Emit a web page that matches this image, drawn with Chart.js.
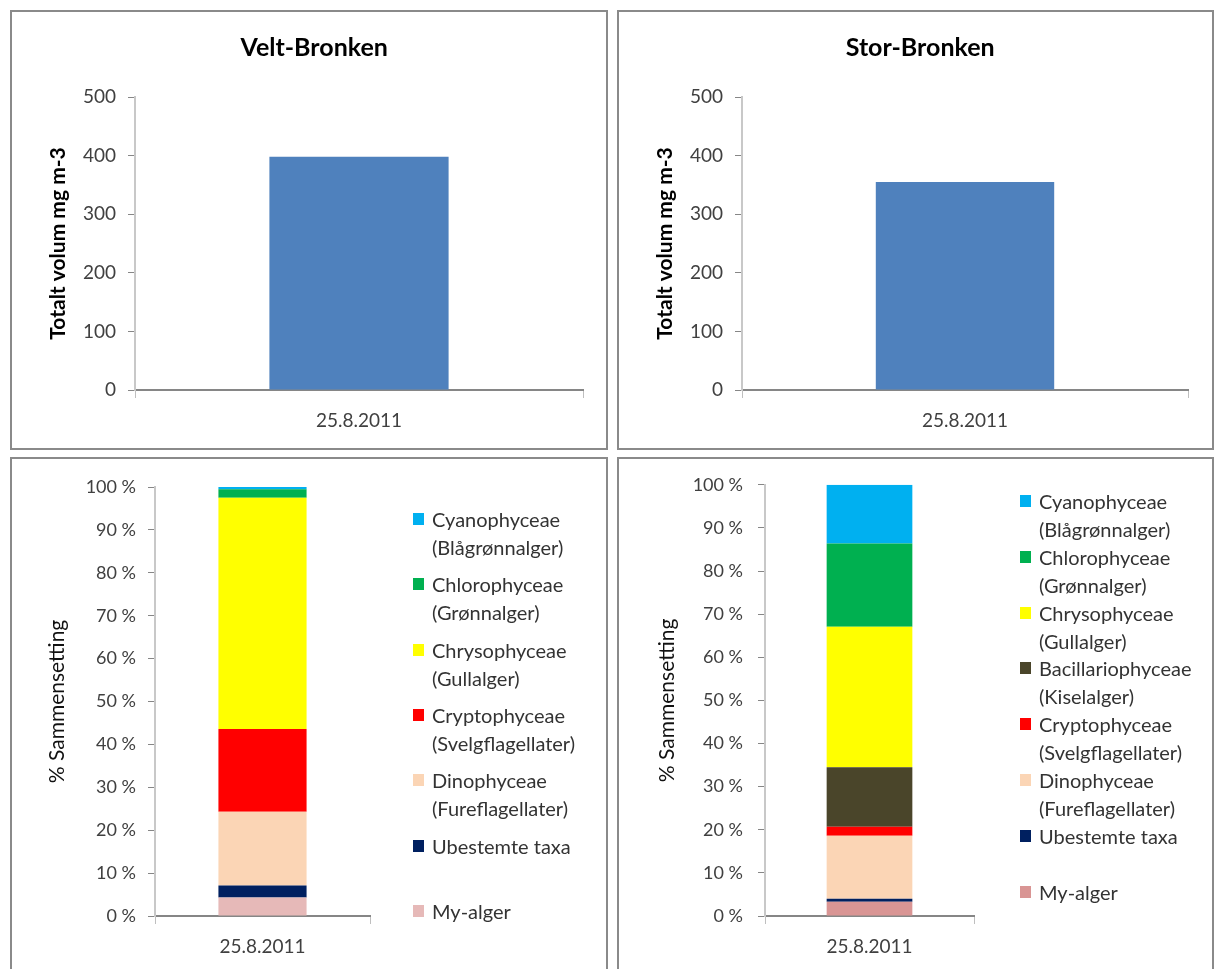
<!DOCTYPE html>
<html>
<head>
<meta charset="utf-8">
<script src="https://cdn.jsdelivr.net/npm/chart.js@4.4.0/dist/chart.umd.min.js"></script>
<style>
  body { margin: 0; background: #fff; width: 1214px; height: 969px; overflow: hidden; position: relative; font-family: Lato, sans-serif; }
  .panel { position: absolute; border: 2px solid #8a8a8a; box-sizing: border-box; }
  canvas { position: absolute; }
  .legend { position: absolute; font-size: 20px; color: #333; line-height: 28px; }
  .legend .item { position: absolute; left: 0; white-space: nowrap; }
  .legend .box { position: absolute; left: 0; top: 8px; width: 11px; height: 12px; }
  .legend .txt { position: absolute; left: 19px; top: 0; }
</style>
</head>
<body>
<div class="panel" style="left:10px;top:10px;width:598px;height:440px"></div>
<div class="panel" style="left:617px;top:10px;width:597px;height:440px"></div>
<div class="panel" style="left:10px;top:457px;width:598px;height:530px"></div>
<div class="panel" style="left:617px;top:457px;width:597px;height:530px"></div>

<canvas id="veltTotal" width="594" height="436" style="left:12px;top:12px"></canvas>
<canvas id="storTotal" width="592" height="436" style="left:619px;top:12px"></canvas>
<canvas id="veltComp" width="594" height="510" style="left:12px;top:459px"></canvas>
<canvas id="storComp" width="592" height="510" style="left:619px;top:459px"></canvas>

<div class="legend" id="veltLegend" style="left:413px;top:505px"></div>
<div class="legend" id="storLegend" style="left:1020px;top:487px"></div>

<script>
// --- data ---
const dates = ['25.8.2011'];
const veltTotal = [398];
const storTotal = [355];

// legend order, top of the stack first
const veltGroups = [
    ['Cyanophyceae', '(Blågrønnalger)'],
    ['Chlorophyceae', '(Grønnalger)'],
    ['Chrysophyceae', '(Gullalger)'],
    ['Cryptophyceae', '(Svelgflagellater)'],
    ['Dinophyceae', '(Fureflagellater)'],
    ['Ubestemte taxa'],
    ['My-alger']
];
const veltPct = [0.5, 2.0, 53.9, 19.3, 17.2, 2.8, 4.3];
const veltColors = ['#00b0f0', '#00b050', '#ffff00', '#ff0000', '#fbd5b5', '#002060', '#e6b9b8'];

const storGroups = [
    ['Cyanophyceae', '(Blågrønnalger)'],
    ['Chlorophyceae', '(Grønnalger)'],
    ['Chrysophyceae', '(Gullalger)'],
    ['Bacillariophyceae', '(Kiselalger)'],
    ['Cryptophyceae', '(Svelgflagellater)'],
    ['Dinophyceae', '(Fureflagellater)'],
    ['Ubestemte taxa'],
    ['My-alger']
];
const storPct = [13.6, 19.3, 32.6, 13.8, 2.1, 14.6, 0.7, 3.3];
const storColors = ['#00b0f0', '#00b050', '#ffff00', '#4a452a', '#ff0000', '#fbd5b5', '#002060', '#d99594'];

const percentTicks = [0, 10, 20, 30, 40, 50, 60, 70, 80, 90, 100];

// --- styling ---
const tickColor = '#404040';

function totalChart(id, title, values) {
    new Chart(document.getElementById(id), {
        type: 'bar',
        data: {
            labels: dates,
            datasets: [{ data: values, backgroundColor: '#4f81bd', barPercentage: 0.4, categoryPercentage: 1 }]
        },
        options: {
            responsive: false,
            animation: false,
            layout: { padding: { left: 33.4, right: 23, top: 0, bottom: 0 } },
            plugins: {
                legend: { display: false },
                tooltip: { enabled: false },
                title: {
                    display: true,
                    text: title,
                    color: '#000',
                    font: { family: 'Lato', size: 25, weight: 'bold' },
                    padding: { top: 21, bottom: 34 }
                }
            },
            scales: {
                x: {
                    grid: { offset: true, drawOnChartArea: false, tickLength: 8, color: '#bfbfbf' },
                    border: { color: '#868686', width: 2 },
                    ticks: { font: { family: 'Lato', size: 19 }, color: tickColor, padding: 11 },
                    afterFit: s => { s.height = 58; }
                },
                y: {
                    min: 0,
                    max: 500,
                    ticks: { stepSize: 100, font: { family: 'Lato', size: 19 }, color: tickColor, padding: 12 },
                    grid: { drawOnChartArea: false, tickLength: 7, color: '#868686' },
                    border: { color: '#c8c8c8', width: 2 },
                    title: {
                        display: true,
                        text: 'Totalt volum mg m-3',
                        color: '#000',
                        font: { family: 'Lato', size: 21, weight: 'bold' },
                        padding: 0
                    },
                    afterFit: s => { s.width = 89.6; }
                }
            }
        }
    });
}

function compChart(id, groups, values, colors, pad, yWidth, labelPad) {
    // stack from the bottom, so reverse the legend order
    const datasets = groups.map((g, i) => ({
        label: g.join(' '),
        data: [values[i]],
        backgroundColor: colors[i],
        barPercentage: 0.41,
        categoryPercentage: 1
    })).reverse();

    new Chart(document.getElementById(id), {
        type: 'bar',
        data: { labels: dates, datasets: datasets },
        options: {
            responsive: false,
            animation: false,
            layout: { padding: pad },
            plugins: { legend: { display: false }, tooltip: { enabled: false } },
            scales: {
                x: {
                    stacked: true,
                    grid: { offset: true, drawOnChartArea: false, tickLength: 8, color: '#bfbfbf' },
                    border: { color: '#868686', width: 2 },
                    ticks: { font: { family: 'Lato', size: 19 }, color: tickColor, padding: 11 },
                    afterFit: s => { s.height = 53; }
                },
                y: {
                    stacked: true,
                    min: 0,
                    max: 100,
                    afterBuildTicks: s => { s.ticks = percentTicks.map(v => ({ value: v })); },
                    ticks: { font: { family: 'Lato', size: 18 }, color: tickColor, padding: labelPad, callback: v => v + ' %' },
                    grid: { drawOnChartArea: false, tickLength: 7, color: '#868686' },
                    border: { color: '#c8c8c8', width: 2 },
                    title: {
                        display: true,
                        text: '% Sammensetting',
                        color: '#111',
                        font: { family: 'Lato', size: 21 },
                        padding: 0
                    },
                    afterFit: s => { s.width = yWidth; }
                }
            }
        }
    });
}

function buildLegend(id, groups, colors, spacing) {
    const el = document.getElementById(id);
    groups.forEach((g, i) => {
        const item = document.createElement('div');
        item.className = 'item';
        item.style.top = (i * spacing) + 'px';
        item.innerHTML = '<div class="box" style="background:' + colors[i] + '"></div>' +
            '<div class="txt">' + g.join('<br>') + '</div>';
        el.appendChild(item);
    });
}

totalChart('veltTotal', 'Velt-Bronken', veltTotal);
totalChart('storTotal', 'Stor-Bronken', storTotal);
compChart('veltComp', veltGroups, veltPct, veltColors, { left: 32.4, right: 236, top: 28, bottom: 0 }, 110.6, 12);
compChart('storComp', storGroups, storPct, storColors, { left: 35.4, right: 237, top: 25, bottom: 0 }, 110.6, 15);
buildLegend('veltLegend', veltGroups, veltColors, 65.3);
buildLegend('storLegend', storGroups, storColors, 55.8);
</script>
</body>
</html>
